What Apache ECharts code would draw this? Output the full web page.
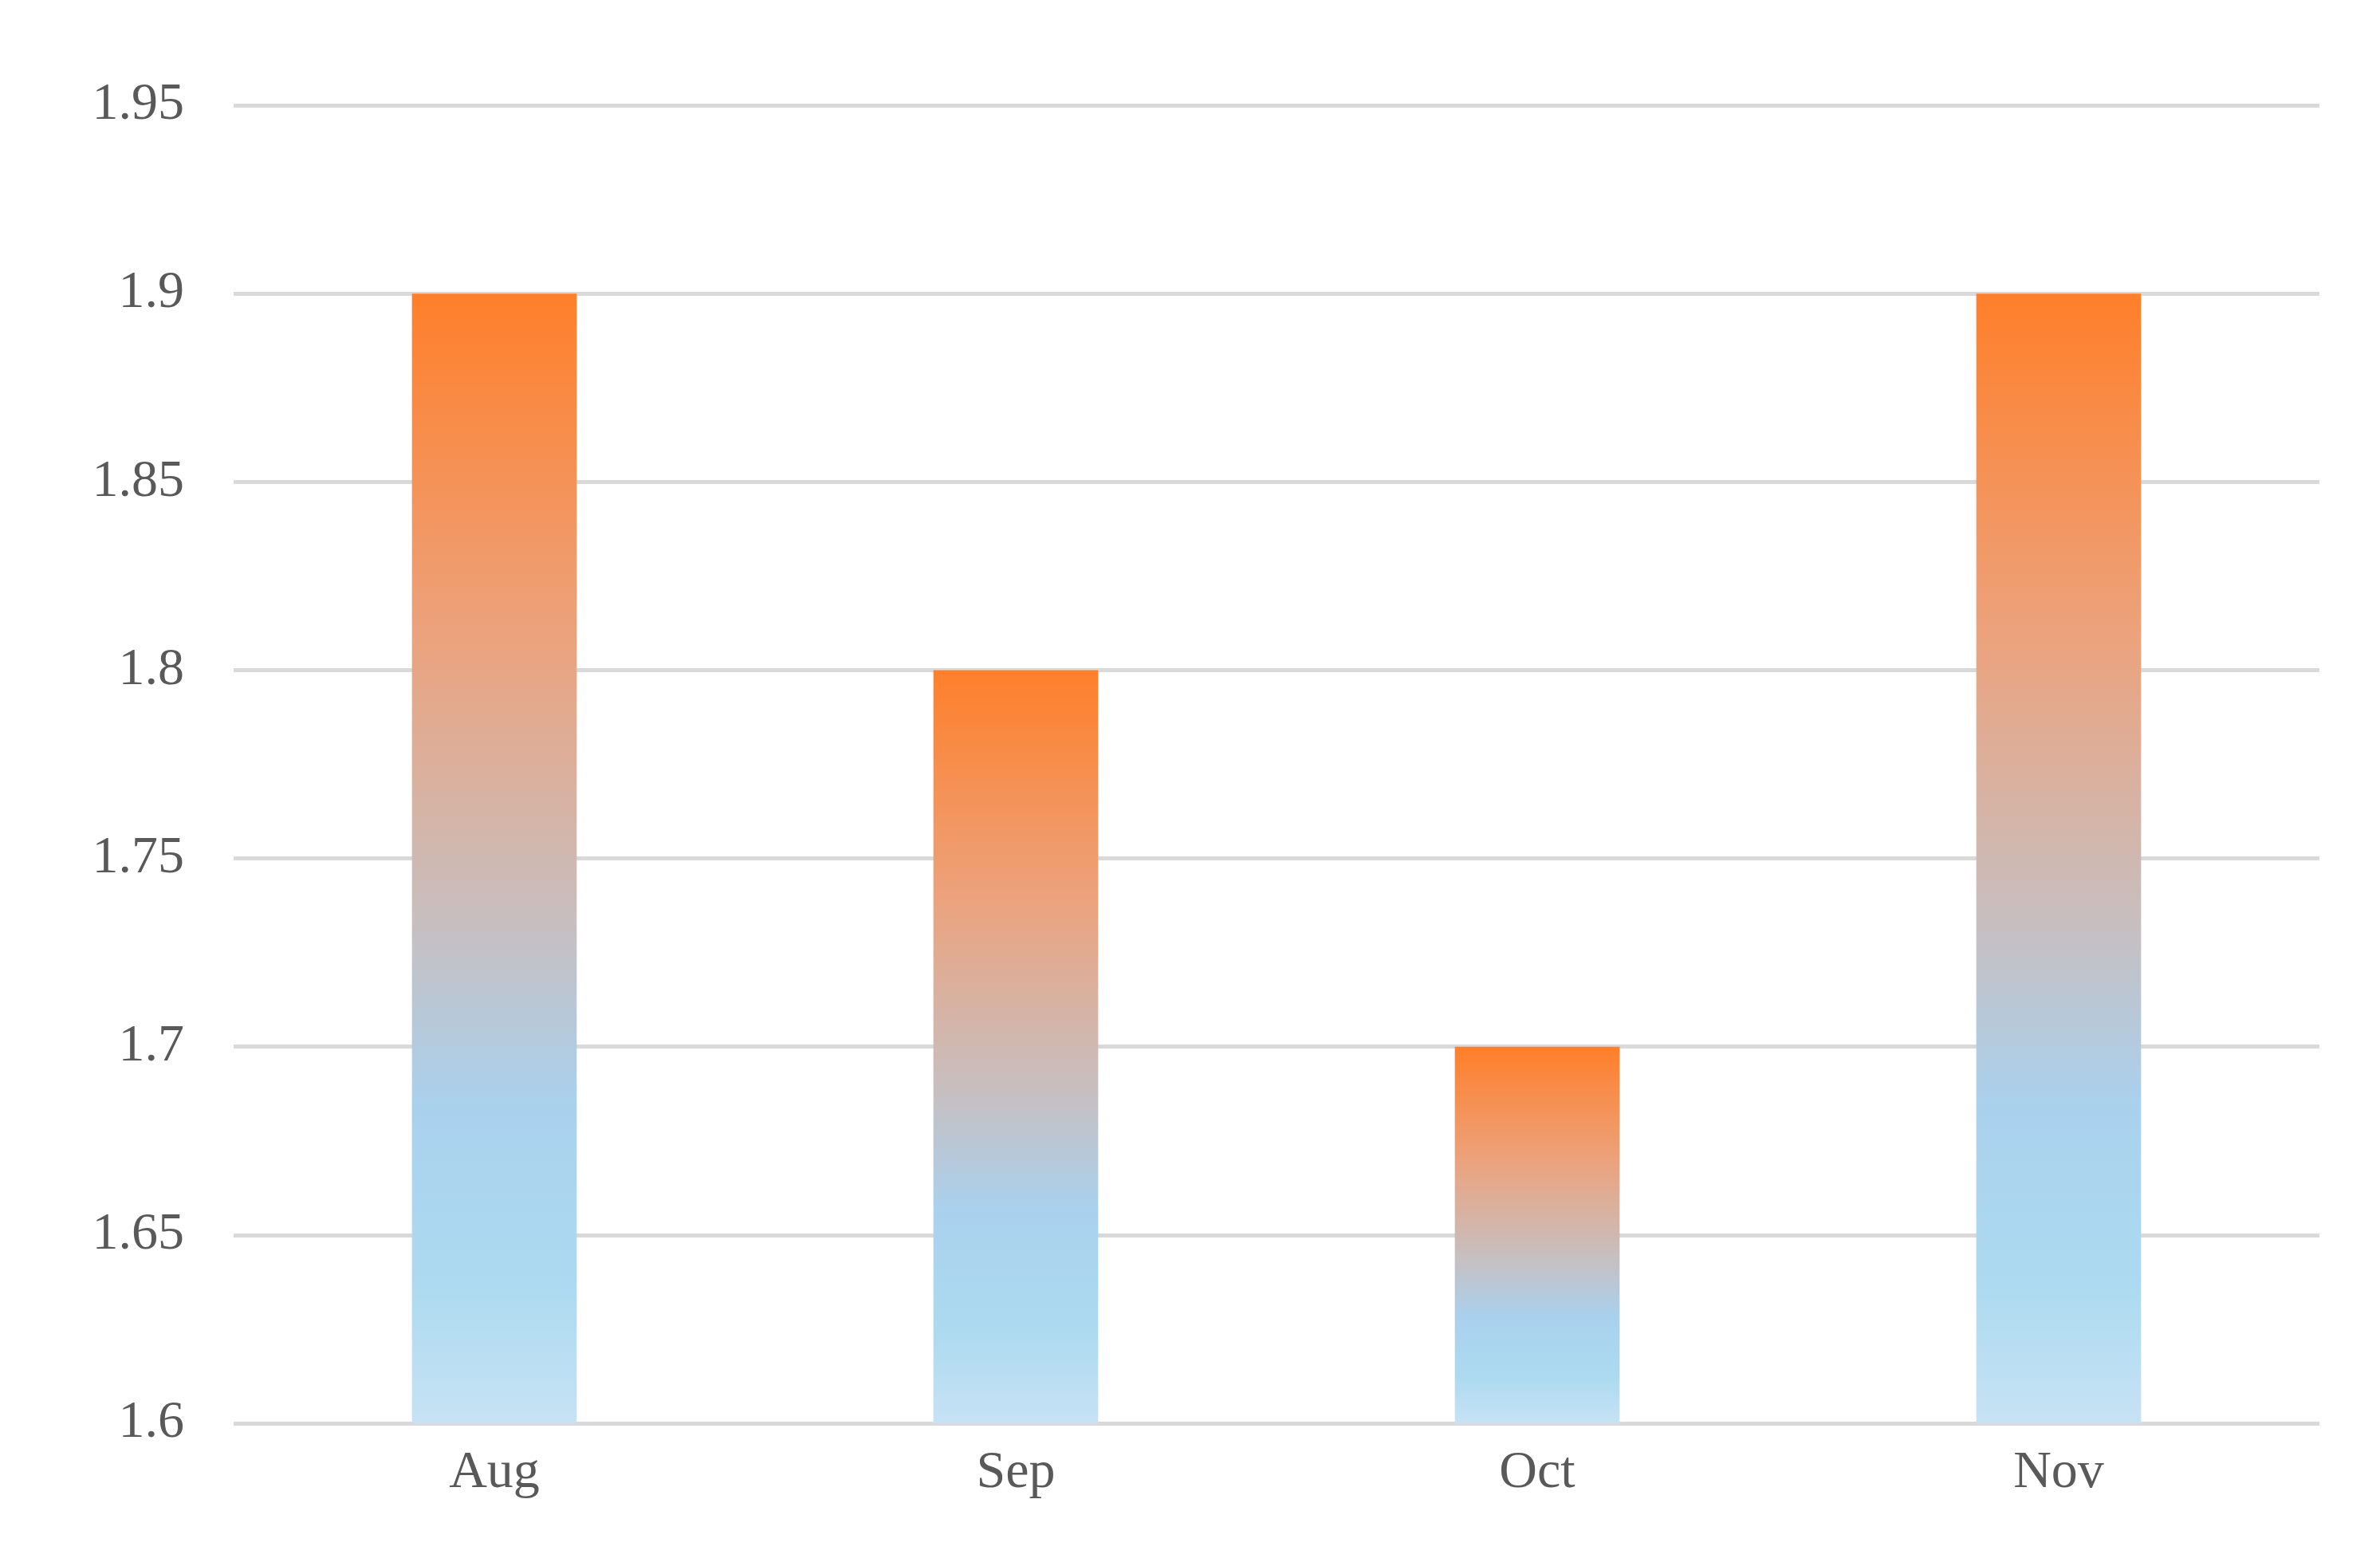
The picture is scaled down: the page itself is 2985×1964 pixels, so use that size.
<!DOCTYPE html>
<html>
<head>
<meta charset="utf-8">
<script src="https://cdn.jsdelivr.net/npm/echarts@6/dist/echarts.min.js"></script>
<style>html,body{margin:0;padding:0;background:#fff}#container{width:2985px;height:1964px}</style>
</head>
<body>
<div id="container"></div>
<script>
var categories = ["Aug", "Sep", "Oct", "Nov"];
var values = [1.9, 1.8, 1.7, 1.9];

var dom = document.getElementById("container");
var myChart = echarts.init(dom, null, { renderer: "canvas" });

var barGradient = new echarts.graphic.LinearGradient(0, 0, 0, 1, [
    { offset: 0, color: "#ff7f2a" },
    { offset: 0.3, color: "#eca27c" },
    { offset: 0.55, color: "#c8bebe" },
    { offset: 0.72, color: "#a9d1ee" },
    { offset: 0.88, color: "#addaf0" },
    { offset: 1, color: "#c7e2f4" }
]);

var option = {
    animation: false,
    grid: { left: 293, right: 76, top: 132, bottom: 179 },
    xAxis: {
        type: "category",
        data: categories,
        axisLine: { show: false },
        axisTick: { show: false },
        axisLabel: { color: "#595959", fontFamily: "Liberation Serif", fontSize: 66, margin: 30 }
    },
    yAxis: {
        type: "value",
        min: 1.6,
        max: 1.95,
        interval: 0.05,
        axisLabel: {
            color: "#595959", fontFamily: "Liberation Serif", fontSize: 66, margin: 62,
            formatter: function (v) { return String(+v.toFixed(2)); }
        },
        splitLine: { lineStyle: { color: "#d9d9d9", width: 5 } }
    },
    series: [{
        type: "bar",
        data: values,
        barWidth: "31.6%",
        itemStyle: { color: barGradient }
    }]
};

myChart.setOption(option);
window.addEventListener("resize", myChart.resize);
</script>
</body>
</html>
